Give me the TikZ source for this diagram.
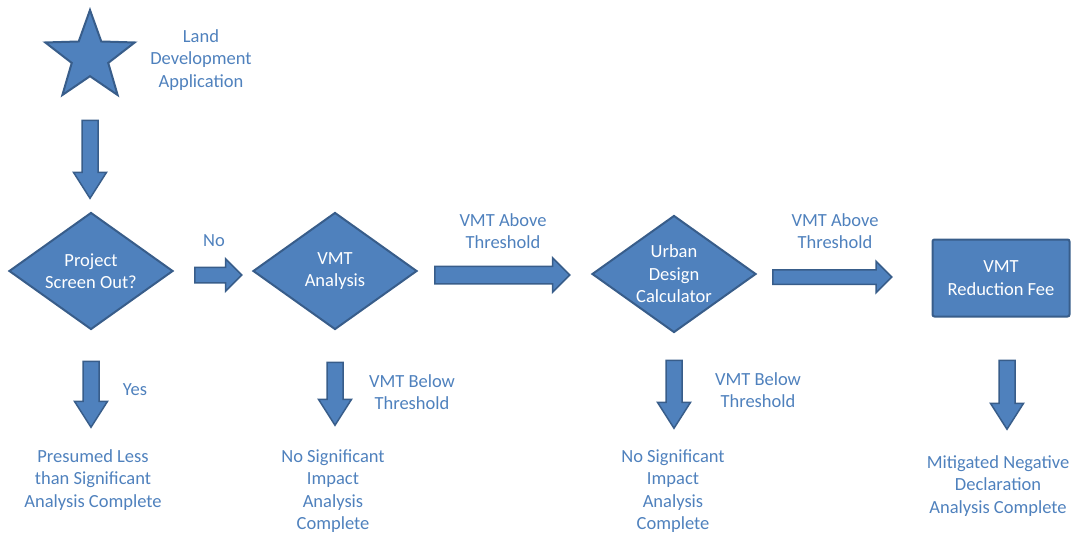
\documentclass[tikz,border=0pt]{standalone}
\usepackage{fontspec}
\setmainfont{Carlito}
\usetikzlibrary{shapes.geometric,shapes.arrows,positioning}
\definecolor{ofblue}{RGB}{79,129,189}
\definecolor{ofdark}{RGB}{56,93,138}
\newcommand{\flowfont}{\fontsize{18.5}{22.5}\selectfont}
\tikzstyle{decision} = [diamond, minimum width=164pt, minimum height=117pt, inner sep=0pt, aspect=1.4, draw=ofdark, line width=2pt, fill=ofblue, text=white, align=center, font=\flowfont]
\tikzstyle{process} = [rectangle, rounded corners=2pt, minimum width=137pt, minimum height=77pt, draw=ofdark, line width=2pt, fill=ofblue, text=white, align=center, font=\flowfont]
\tikzstyle{startstar} = [star, star points=5, star point ratio=2.45, minimum size=94pt, inner sep=0pt, draw=ofdark, line width=2pt, fill=ofblue]
\tikzstyle{harrow} = [single arrow, draw=ofdark, fill=ofblue, line width=1.5pt, inner sep=7pt, single arrow head extend=8.5pt, single arrow tip angle=90, yshift=-4pt]
\tikzstyle{varrow} = [single arrow, draw=ofdark, fill=ofblue, line width=1.5pt, inner sep=7.25pt, single arrow head extend=8.5pt, single arrow tip angle=65, shape border rotate=270]
\tikzstyle{note} = [text=ofblue, align=center, font=\flowfont]

\begin{document}
\begin{tikzpicture}[x=1pt,y=1pt]
    \useasboundingbox (0,0) rectangle (1085,-533);
    % main row
    \node (start) [startstar] at (90,-57) {};
    \node (land) [note] at (201,-60) {Land\\Development\\Application};
    \node (a1) [varrow, minimum height=78pt] at (90,-153) {};
    \node (screen) [decision] at (91,-271) {Project\\Screen Out?};
    \node (vmt) [decision] at (335,-271) {VMT\\Analysis};
    \node (calc) [decision, inner ysep=-6pt] at (674,-274) {Urban\\Design\\Calculator};
    \node (fee) [process] at (1001,-278) {VMT\\Reduction Fee};
    \node (a2) [harrow, minimum height=47pt, right=20pt of screen] {};
    \node (a3) [harrow, minimum height=135pt, right=16pt of vmt, inner sep=8pt] {};
    \node (a4) [harrow, minimum height=119pt, right=15pt of calc, inner sep=6.5pt, yshift=1pt] {};
    \node (no) [note] at (214,-241) {No};
    \node (above1) [note] at (503,-231) {VMT Above\\Threshold};
    \node (above2) [note] at (835,-231) {VMT Above\\Threshold};
    % results
    \node (b1) [varrow, minimum height=66pt, below=30pt of screen] {};
    \node (b2) [varrow, minimum height=63pt, below=31pt of vmt] {};
    \node (b3) [varrow, minimum height=68pt, below=26pt of calc] {};
    \node (b4) [varrow, minimum height=69pt, below=42pt of fee, xshift=6pt] {};
    \node (yes) [note] at (135,-390) {Yes};
    \node (below1) [note] at (412,-392) {VMT Below\\Threshold};
    \node (below2) [note] at (758,-390) {VMT Below\\Threshold};
    \node (res1) [note] at (93,-480) {Presumed Less\\than Significant\\Analysis Complete};
    \node (res2) [note] at (333,-491) {No Significant\\Impact\\Analysis\\Complete};
    \node (res3) [note] at (673,-491) {No Significant\\Impact\\Analysis\\Complete};
    \node (res4) [note] at (998,-486) {Mitigated Negative\\Declaration\\Analysis Complete};
\end{tikzpicture}
\end{document}
